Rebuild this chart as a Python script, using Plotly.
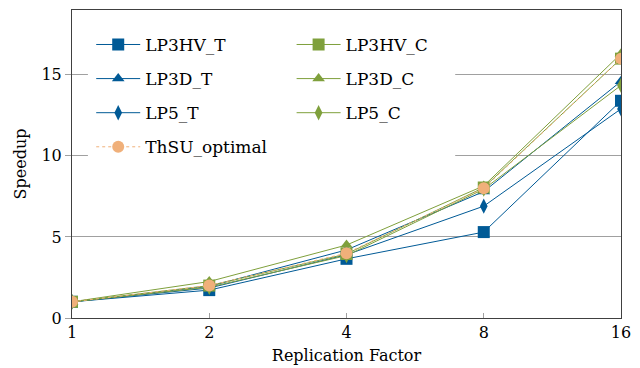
import plotly.graph_objects as go

x_vals = [1, 2, 4, 8, 16]
x_ticks = ["1", "2", "4", "8", "16"]

lp3hv_t = [1.0, 1.72, 3.65, 5.3, 13.4]
lp3d_t = [1.0, 1.95, 4.2, 7.8, 14.6]
lp5_t = [1.0, 1.85, 3.9, 6.9, 12.9]
lp3hv_c = [1.0, 2.0, 3.95, 8.05, 16.0]
lp3d_c = [1.0, 2.25, 4.5, 8.15, 16.3]
lp5_c = [1.0, 1.9, 3.85, 7.95, 14.35]
thsu_opt = [1.0, 2.0, 4.0, 8.0, 16.0]

BLUE = "#005a96"
GREEN = "#7fa03c"
ORANGE = "#f0b07a"
FONT = '"DejaVu Serif", "Liberation Serif", serif'

fig = go.Figure()

series = [
    ("LP3HV_T", lp3hv_t, BLUE, "square", 12, "solid", "legend"),
    ("LP3D_T", lp3d_t, BLUE, "triangle-up", 11, "solid", "legend"),
    ("LP5_T", lp5_t, BLUE, "diamond-tall", 11, "solid", "legend"),
    ("ThSU_optimal", thsu_opt, ORANGE, "circle", 12, "dot", "legend"),
    ("LP3HV_C", lp3hv_c, GREEN, "square", 12, "solid", "legend2"),
    ("LP3D_C", lp3d_c, GREEN, "triangle-up", 11, "solid", "legend2"),
    ("LP5_C", lp5_c, GREEN, "diamond-tall", 11, "solid", "legend2"),
]

draw_order = [0, 1, 2, 4, 5, 6, 3]
for i in draw_order:
    name, ys, col, sym, sz, dash, lg = series[i]
    fig.add_trace(go.Scatter(
        x=x_vals, y=ys, name=name, mode="lines+markers",
        line=dict(color=col, width=1, dash=dash),
        marker=dict(symbol=sym, size=sz, color=col, line=dict(width=0)),
        legend=lg, legendgroup=name,
        legendrank=i,
    ))

legend_common = dict(
    bgcolor="rgba(255,255,255,0)", borderwidth=0,
    font=dict(family=FONT, size=17, color="#000000"),
    tracegroupgap=9, itemwidth=44,
    xanchor="left", yanchor="top",
    traceorder="grouped",
)

# white backdrop behind the two legend columns (hides the gridline there)
fig.add_shape(type="rect", xref="paper", yref="paper",
              x0=0.029, x1=0.698, y0=0.50, y1=0.945,
              fillcolor="white", line=dict(width=0), layer="above")

fig.update_layout(
    width=640, height=368,
    margin=dict(l=72, r=19, t=10, b=50),
    paper_bgcolor="white", plot_bgcolor="white",
    font=dict(family=FONT, size=16, color="#000000"),
    legend=dict(x=0.035, y=0.945, **legend_common),
    legend2=dict(x=0.40, y=0.945, **legend_common),
    xaxis=dict(
        type="log", range=[0, 1.2041199827],
        tickvals=x_vals, ticktext=x_ticks,
        ticks="inside", ticklen=5, tickcolor="#a0a0a0",
        showgrid=False, zeroline=False, automargin=False,
        showline=True, linecolor="#404040", linewidth=1, mirror=True,
        title=dict(text="Replication Factor", font=dict(family=FONT, size=16), standoff=8),
    ),
    yaxis=dict(
        range=[0, 19],
        tickvals=[0, 5, 10, 15], automargin=False,
        ticks="outside", ticklen=6, tickcolor="#a0a0a0",
        showgrid=True, gridcolor="#a0a0a0", gridwidth=1,
        zeroline=False,
        showline=True, linecolor="#404040", linewidth=1, mirror=True,
        title=dict(text="Speedup", font=dict(family=FONT, size=16), standoff=10),
    ),
)

fig.write_html("out.html")
